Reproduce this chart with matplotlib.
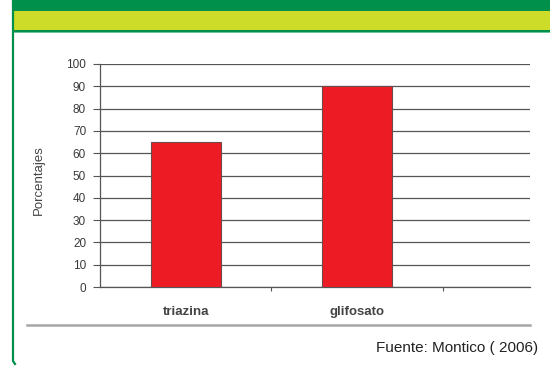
import matplotlib.pyplot as plt
from matplotlib.lines import Line2D
from matplotlib.patches import Rectangle

plt.rcParams['font.family'] = ['Liberation Sans', 'DejaVu Sans']

# datos del grafico
categorias = ['triazina', 'glifosato']
porcentajes = [65, 90]
ticks_y = list(range(0, 101, 10))
fuente = 'Fuente: Montico ( 2006)'

W, H = 550, 366
fig = plt.figure(figsize=(5.5, 3.66), dpi=100)

def fx(px):
    return px / W

def fy(py):
    return 1 - py / H

# ================= marco verde =================
fig.patches.append(Rectangle((fx(12), fy(10.5)), 1, 10.5 / H, transform=fig.transFigure,
                             facecolor='#00904c', edgecolor='none', zorder=0))
fig.patches.append(Rectangle((fx(12), fy(30)), 1, 19.5 / H, transform=fig.transFigure,
                             facecolor='#cddc29', edgecolor='none', zorder=0))
fig.patches.append(Rectangle((fx(12), fy(32)), 1, 2 / H, transform=fig.transFigure,
                             facecolor='#00904c', edgecolor='none', zorder=0))
fig.patches.append(Rectangle((fx(12), fy(33)), 1, 1 / H, transform=fig.transFigure,
                             facecolor='#6cc49a', edgecolor='none', zorder=0))
fig.lines.append(Line2D([fx(13), fx(13), fx(15)], [1, fy(361), fy(364)],
                        transform=fig.transFigure, color='#00904c', lw=1.6))
fig.lines.append(Line2D([fx(27), fx(530)], [fy(324.5), fy(324.5)],
                        transform=fig.transFigure, color='#a6a6a6', lw=1.8))

# ================= grafico de barras =================
ax = fig.add_axes([fx(100), fy(287), fx(530) - fx(100), (287 - 64) / H])
x = list(range(len(categorias)))
ax.bar(x, porcentajes, width=0.41, color='#ed1c24', edgecolor='#6e4a4a',
       linewidth=0.8, zorder=3)
ax.set_xlim(-0.5, 2.01)
ax.set_ylim(0, 100)
ax.set_yticks(ticks_y)
ax.set_yticklabels([str(t) for t in ticks_y], fontsize=8.5, color='#3a3a3a')
ax.yaxis.grid(True, color='#555555', linewidth=0.9, zorder=0)
ax.set_axisbelow(True)

ax.set_xticks([0.5, 1.5])
ax.set_xticklabels([])
ax.tick_params(axis='x', length=3, color='#555555', direction='out')
ax.tick_params(axis='y', length=5, color='#555555', pad=5)
for i, c in enumerate(categorias):
    ax.text(i, -11, c, ha='center', va='center', fontsize=9.5, fontweight='bold',
            color='#444444')

for s in ['top', 'right']:
    ax.spines[s].set_visible(False)
ax.spines['left'].set_color('#555555')
ax.spines['bottom'].set_color('#555555')
ax.spines['left'].set_linewidth(0.9)
ax.spines['bottom'].set_linewidth(0.9)

fig.text(fx(39), fy(180), 'Porcentajes', rotation=90, ha='center', va='center',
         fontsize=9.5, color='#444444')
fig.text(fx(538), fy(348), fuente, ha='right', va='center', fontsize=11,
         color='#222222')

fig.savefig('out.png', dpi=100)
